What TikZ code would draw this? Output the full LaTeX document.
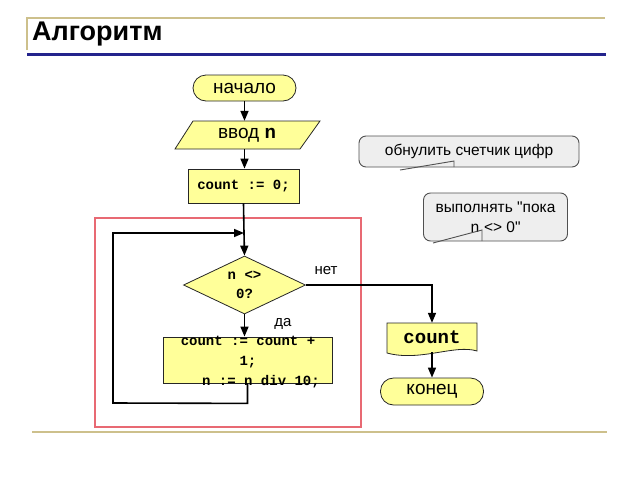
\documentclass[tikz,border=0pt]{standalone}
\usepackage{fontspec}
\setmainfont{Liberation Sans}[Ligatures=TeXOff]
\newfontfamily\monof{Liberation Mono}[Ligatures=TeXOff]
\usetikzlibrary{shapes.geometric,arrows.meta}
\definecolor{blockfill}{RGB}{255,255,153}
\definecolor{lineTan}{RGB}{205,192,140}
\definecolor{navyLine}{RGB}{35,35,140}
\definecolor{boxRed}{RGB}{232,105,115}
\definecolor{bubbleFill}{RGB}{238,238,238}
\definecolor{bubbleLine}{RGB}{80,80,80}
\begin{document}
\begin{tikzpicture}[x=1pt,y=-1pt,
  every node/.style={inner sep=0pt},
  blk/.style={draw=black!85, fill=blockfill, line width=0.8pt},
  term/.style={blk, rounded corners=13pt, minimum width=103pt, minimum height=26pt, font=\fontsize{19}{21}\selectfont},
  arr/.style={-{Triangle[length=10pt,width=8pt]}, line width=1.6pt},
  ln/.style={line width=1.6pt},
  lbl/.style={font=\fontsize{15}{17}\selectfont},
  bubblebox/.style={draw=bubbleLine, fill=bubbleFill, line width=0.9pt, rounded corners=7pt, font=\fontsize{15.5}{20}\selectfont},
  tail/.style={draw=bubbleLine, line width=0.9pt}]
\useasboundingbox (0,0) rectangle (640,480);

% title area
\draw[lineTan, line width=1.2pt] (27,50) -- (27,18) -- (605,18);
\draw[navyLine, line width=2.5pt] (27,54.5) -- (606,54.5);
\node[anchor=west, font=\bfseries\fontsize{27}{30}\selectfont] (title) at (32,34) {Алгоритм};
\draw[lineTan, line width=2pt] (32,432) -- (607,432);

% loop frame
\draw[boxRed, line width=1.2pt] (95,218) rectangle (361,427);

% blocks
\node[term] (start) at (244.5,88) {начало};

\draw[blk] (175,149) -- (193,121) -- (320,121) -- (300,149) -- cycle;
\node[minimum width=110pt, minimum height=28pt, font=\fontsize{19}{21}\selectfont] (in) at (247,135) {ввод {\monof\bfseries n}};

\node[blk, minimum width=111pt, minimum height=34pt, font=\monof\bfseries\fontsize{14}{16}\selectfont] (init) at (243.5,186) {count := 0;};

\coordinate (j) at (244,233);

\node[diamond, blk, minimum width=122pt, minimum height=58pt, aspect=2.1, align=center, font=\monof\bfseries\fontsize{14}{19}\selectfont] (cond) at (244.5,285) {n <>\\0?};

\node[blk, minimum width=169pt, minimum height=46pt] (body) at (247.5,360) {};
\node[align=center, font=\monof\bfseries\fontsize{14}{20}\selectfont] (bodytxt) at (248,362) {count := count +\\1;\\\hspace*{26pt}n := n div 10;};

\draw[blk] (387,323) -- (477,323) -- (477,351) .. controls (455,344) and (420,362) .. (387,353) -- cycle;
\node[minimum width=90pt, minimum height=29pt, font=\monof\bfseries\fontsize{19}{21}\selectfont] (out) at (432,337.5) {count};

\node[term, minimum height=27pt] (end) at (432,391.5) {конец};

% labels
\node[lbl] (no) at (326,271) {нет};
\node[lbl] (yes) at (283,324) {да};

% connectors
\draw[arr] (start.south) -- (start.south |- in.north);
\draw[arr] (start.south |- in.south) -- (start.south |- init.north);
\draw[ln] (init.south) -- (j);
\draw[arr] (j) -- (cond.north);
\draw[arr] (cond.south) -- (cond.south |- body.north);
\draw[arr] (body.south) -- ++(0,20) -- (113,403) |- (j);
\draw[arr] (cond.east) -| (out.north);
\draw[arr] (out.south) -- (end.north);

% comments
\node[bubblebox, minimum width=220pt, minimum height=31pt] (c1) at (469,151.5) {обнулить счетчик цифр};
\draw[tail] (400,170) -- (454,161) -- (454,167);
\node[bubblebox, minimum width=144pt, minimum height=48pt, align=center] (c2) at (495.5,217) {выполнять "пока\\{\monof n} <> 0"};
\draw[tail] (433,243) -- (482,230) -- (482,241);
\end{tikzpicture}
\end{document}
